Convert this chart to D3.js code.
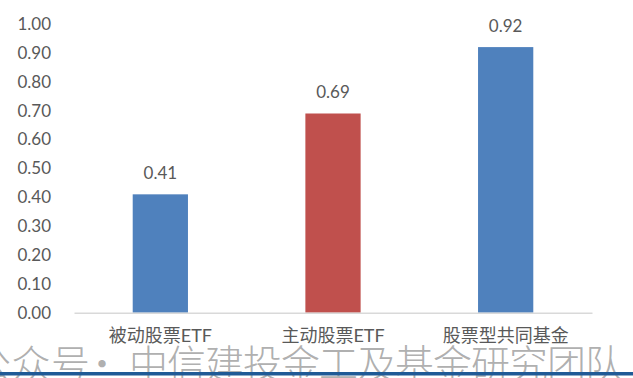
<!DOCTYPE html>
<html>
<head>
<meta charset="utf-8">
<script src="https://cdn.jsdelivr.net/npm/d3@7"></script>
<style>
  html, body { margin: 0; padding: 0; background: #fff; }
  svg { display: block; }
</style>
</head>
<body>
<svg id="chart" width="633" height="378"></svg>
<script>
const categories = ["被动股票ETF", "主动股票ETF", "股票型共同基金"];
const values = [0.41, 0.69, 0.92];
const barColors = ["#4F81BD", "#C0504D", "#4F81BD"];
const yTicks = [0, 0.1, 0.2, 0.3, 0.4, 0.5, 0.6, 0.7, 0.8, 0.9, 1.0];

const svg = d3.select("#chart");
const W = 633, H = 378;
const textColor = "#595959";
const latin = "Lato, 'Noto Sans CJK SC', sans-serif";

const x = d3.scaleBand().domain(categories).range([74, 592]).paddingInner(0.68).paddingOuter(0.34);
const y = d3.scaleLinear().domain([0, 1]).range([312.7, 24]);

// watermark (behind chart text)
const wm = svg.append("g").attr("fill", "#9a9a9a").attr("fill-opacity", 0.8)
  .style("font-family", "'Noto Sans CJK SC', sans-serif").style("font-size", "39px")
  .style("font-weight", 300);
wm.append("text").attr("x", -28).attr("y", 378).attr("letter-spacing", 0.5).text("公众号");
wm.append("text").attr("x", 102).attr("y", 378).attr("text-anchor", "middle").text("·");
wm.append("text").attr("x", 129).attr("y", 378).attr("letter-spacing", -1).text("中信建投金工及基金研究团队");

// y tick labels
const yAxis = d3.axisLeft(y).tickValues(yTicks).tickFormat(d3.format(".2f")).tickSize(0).tickPadding(0);
const gy = svg.append("g").attr("transform", "translate(51,0)").call(yAxis);
gy.select(".domain").remove();
gy.selectAll("text").attr("fill", textColor).style("font-family", latin).style("font-size", "17px");

// bars
svg.selectAll("rect.bar").data(values).join("rect")
  .attr("class", "bar")
  .attr("x", (d, i) => x(categories[i]))
  .attr("width", x.bandwidth())
  .attr("y", d => y(d))
  .attr("height", d => y(0) - y(d))
  .attr("fill", (d, i) => barColors[i]);

// x axis
const xAxis = d3.axisBottom(x).tickSize(0).tickPadding(17);
const gx = svg.append("g").attr("transform", `translate(0,${y(0)})`).call(xAxis);
gx.select(".domain").attr("stroke", "#D9D9D9").attr("stroke-width", 1.5);
gx.selectAll("text").attr("fill", textColor).style("font-family", latin).style("font-size", "18px");

// data labels
svg.selectAll("text.val").data(values).join("text")
  .attr("class", "val")
  .attr("x", (d, i) => x(categories[i]) + x.bandwidth() / 2)
  .attr("y", d => y(d) - 15)
  .attr("text-anchor", "middle")
  .attr("fill", textColor)
  .style("font-family", latin)
  .style("font-size", "17px")
  .text(d => d.toFixed(2));

// bottom line
svg.append("rect").attr("x", 0).attr("y", 372).attr("width", W).attr("height", 3.5).attr("fill", "#1F5A96");
</script>
</body>
</html>
